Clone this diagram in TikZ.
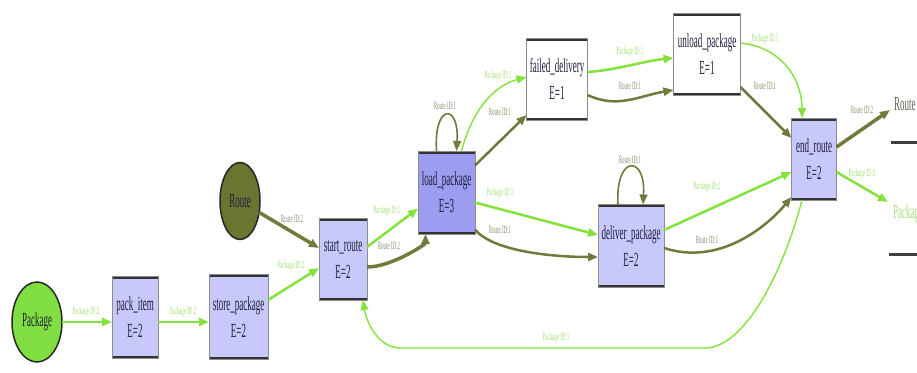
\documentclass[tikz,border=0pt]{standalone}
\usepackage{fontspec}
\setmainfont{Liberation Serif}[FakeStretch=0.45]
\usetikzlibrary{arrows.meta,shapes.geometric,calc}
\definecolor{cGreen}{HTML}{84E23C}
\definecolor{cGFill}{HTML}{80DE40}
\definecolor{cOlive}{HTML}{6F7A3C}
\definecolor{cRFill}{HTML}{6B7530}
\definecolor{cLav}{HTML}{C8C8FA}
\definecolor{cLoad}{HTML}{9C9CF0}
\definecolor{cGLab}{HTML}{A6E07A}
\definecolor{cOLab}{HTML}{8C8C70}
\definecolor{cText}{HTML}{1E1E3C}
\newcommand\ndfont{\fontsize{20}{27}\selectfont}
\newcommand\lblfont{\fontsize{11}{11}\selectfont}
\begin{document}
\begin{tikzpicture}[x=1pt,y=-1pt,
  every node/.style={inner sep=0pt, outer sep=0pt},
  box/.style={rectangle, draw=black!45, line width=0.6pt, fill=cLav, align=center,
    text=cText, font=\ndfont,
    path picture={
      \draw[line width=5pt, black!80] (path picture bounding box.north west) -- (path picture bounding box.north east);
      \draw[line width=5pt, black!80] (path picture bounding box.south west) -- (path picture bounding box.south east);}},
  ell/.style={ellipse, draw=black!85, line width=1.5pt, text=cText, font=\ndfont},
  tipA/.style={-{Triangle[length=10pt,width=8pt]}},
  gedge/.style={draw=cGreen, line width=2.5pt, tipA},
  gthin/.style={draw=cGreen, line width=1.4pt, tipA},
  oedge/.style={draw=cOlive, line width=2.5pt, tipA},
  othick/.style={draw=cOlive, line width=3.5pt, tipA},
  othin/.style={draw=cOlive, line width=1.6pt, tipA},
  glbl/.style={text=cGLab, font=\lblfont},
  olbl/.style={text=cOLab, font=\lblfont}
]
\useasboundingbox (0,0) rectangle (917,372);

% nodes
\node[ell, fill=cGFill, minimum width=50pt, minimum height=80pt] (pkg) at (37,322) {Package};
\node[ell, fill=cRFill, minimum width=40pt, minimum height=77pt] (route) at (240,201) {Route};
\node[box, minimum width=46pt, minimum height=82pt] (pack) at (135,317) {pack\_item\\E=2};
\node[box, minimum width=59pt, minimum height=85pt] (store) at (238.5,317) {store\_package\\E=2};
\node[box, minimum width=48pt, minimum height=82pt] (start) at (343,259) {start\_route\\E=2};
\node[box, fill=cLoad, minimum width=57pt, minimum height=83pt] (load) at (446.5,192.5) {load\_package\\E=3};
\node[box, fill=white, minimum width=61pt, minimum height=82pt] (failed) at (557,79) {failed\_delivery\\E=1};
\node[box, fill=white, minimum width=67pt, minimum height=82pt] (unload) at (707,54) {unload\_package\\E=1};
\node[box, minimum width=66pt, minimum height=83pt] (deliver) at (631,246) {deliver\_package\\E=2};
\node[box, minimum width=45pt, minimum height=82pt] (endr) at (814,159) {end\_route\\E=2};

% sinks
\node[anchor=west, font=\ndfont, text=cOLab!70!black] (routeT) at (894,104) {Route};
\draw[line width=3pt, black!75] (891,142) -- (917,142);
\coordinate (routeIn) at (890,110);
\node[anchor=west, font=\ndfont, text=cGLab] (pkgT) at (893,214) {Package};
\draw[line width=3pt, black!75] (889,254) -- (917,254);
\coordinate (pkgIn) at (888,202);

% edges
\draw[gedge] ([yshift=0pt]pkg.east) -- ([yshift=-5pt]pack.west);
\node[glbl] (l1) at (86,312) {Package ID:2};
\draw[gedge] ([yshift=-5pt]pack.east) -- ([yshift=-5pt]store.west);
\node[glbl] (l2) at (183,312) {Package ID:2};
\draw[gedge] ([yshift=17pt]store.east) -- ([yshift=-9pt]start.west);
\node[glbl] (l3) at (291,266) {Package ID:2};
\draw[othick] (route) -- ([yshift=11pt]start.west);
\node[olbl] (l4) at (292,219) {Route ID:2};

\draw[gedge] ([yshift=12pt]start.east) -- ([yshift=-16pt]load.west);
\node[glbl] (l5) at (387,211) {Package ID:1};
\draw[othick] ([yshift=-8pt]start.east) .. controls +(25,0) and +(0,10) .. ([xshift=-21pt]load.south);
\node[olbl] (l6) at (389,246) {Route ID:2};

\draw[othin] ([xshift=-10pt]load.north) .. controls +(-3,-48) and +(3,-48) .. ([xshift=10pt]load.north);
\node[olbl] (l7) at (445,106) {Route ID:1};

\draw[gthin] ([xshift=15pt]load.north) .. controls +(12,-45) and +(-30,8) .. ([yshift=2pt]failed.west);
\node[glbl] (l8) at (498,76) {Package ID:1};
\draw[oedge] ([yshift=27pt]load.east) -- ([yshift=-36pt]failed.west);
\node[olbl] (l9) at (500,112) {Route ID:1};

\draw[gedge] ([yshift=7pt]failed.east) .. controls +(30,-2) and +(-30,3) .. ([yshift=-4pt]unload.west);
\node[glbl] (l10) at (630,52) {Package ID:1};
\draw[oedge] ([yshift=-16pt]failed.east) .. controls +(30,14) and +(-35,6) .. ([yshift=-36pt]unload.west);
\node[olbl] (l11) at (630,86) {Route ID:1};

\draw[gthin] ([yshift=11pt]unload.east) .. controls +(40,4) and +(0,-40) .. ([xshift=-12pt]endr.north);
\node[glbl] (l12) at (765,39) {Package ID:1};
\draw[oedge] ([yshift=-33pt]unload.east) -- ([yshift=21pt]endr.west);
\node[olbl] (l13) at (765,86) {Route ID:1};

\draw[gedge] ([yshift=-10pt]load.east) -- ([yshift=11pt]deliver.west);
\node[glbl] (l14) at (500,193) {Package ID:1};
\draw[oedge] ([yshift=-37pt]load.east) .. controls +(18,22) and +(-45,0) .. ([yshift=-11pt]deliver.west);
\node[olbl] (l15) at (500,230) {Route ID:1};

\draw[othin] ([xshift=-13pt]deliver.north) .. controls +(-3,-50) and +(3,-50) .. ([xshift=12pt]deliver.north);
\node[olbl] (l16) at (630,160) {Route ID:1};

\draw[gedge] ([yshift=16pt]deliver.east) -- ([yshift=-13pt]endr.west);
\node[glbl] (l17) at (707,187) {Package ID:2};
\draw[oedge] ([yshift=-2pt]deliver.east) .. controls +(55,18) and +(-25,30) .. ([yshift=-38pt]endr.west);
\node[olbl] (l18) at (707,240) {Route ID:1};

\coordinate (b1) at (705,348);
\coordinate (b2) at (400,348);
\draw[gthin] ([xshift=-12pt]endr.south) .. controls +(-18,70) and +(40,0) .. (b1) -- (b2) .. controls +(-20,0) and +(4,25) .. ([xshift=20pt]start.south);
\node[glbl] (l19) at (556,338) {Package ID:1};

\draw[othick] ([yshift=12pt]endr.east) -- (routeIn);
\node[olbl] (l20) at (862,110) {Route ID:2};
\draw[gedge] ([yshift=-13pt]endr.east) -- (pkgIn);
\node[glbl] (l21) at (862,174) {Package ID:1};
\end{tikzpicture}
\end{document}
